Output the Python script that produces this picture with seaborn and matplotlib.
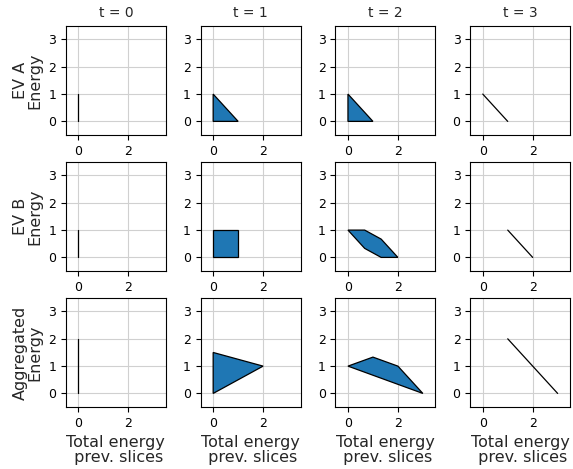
import numpy as np
import pandas as pd
import matplotlib
matplotlib.use("Agg")
import matplotlib.pyplot as plt
import seaborn as sns

# Row / column labels
row_labels = ["EV A\nEnergy", "EV B\nEnergy", "Aggregated\nEnergy"]
col_titles = ["t = 0", "t = 1", "t = 2", "t = 3"]

# Feasible sets: (x = total energy prev. slices, y = energy)
ev_a_x = [[0, 0], [0, 0, 1], [0, 0, 1], [0, 1]]
ev_a_y = [[0, 1], [0, 1, 0], [0, 1, 0], [1, 0]]

ev_b_x = [[0, 0], [0, 0, 1, 1], [0, 0.67, 1.33, 2, 1.33, 0.67], [1, 2]]
ev_b_y = [[0, 1], [0, 1, 1, 0], [1, 1, 0.67, 0, 0, 0.33], [1, 0]]

agg_x = [[0, 0], [0, 0, 2], [0, 1, 2, 3], [1, 3]]
agg_y = [[0, 2], [0, 1.5, 1], [1, 1.33, 1, 0], [2, 0]]

rows = [(ev_a_x, ev_a_y), (ev_b_x, ev_b_y), (agg_x, agg_y)]


def main():
    sns.set_style("ticks")
    fig, axes = plt.subplots(3, 4, figsize=(5.73, 4.69), dpi=100)

    for r, (xs, ys) in enumerate(rows):
        for c in range(4):
            ax = axes[r, c]
            x, y = xs[c], ys[c]
            if len(x) > 2:
                ax.fill(x, y, facecolor="#1f77b4", edgecolor="black", linewidth=0.9, zorder=3)
            else:
                df = pd.DataFrame({"x": x, "y": y})
                sns.lineplot(data=df, x="x", y="y", sort=False, estimator=None,
                             color="black", linewidth=0.9, ax=ax, zorder=3)
            ax.set_xlim(-0.5, 3.5)
            ax.set_ylim(-0.5, 3.5)
            ax.set_xticks([0, 2])
            ax.set_yticks([0, 1, 2, 3])
            ax.grid(True, color="#d0d0d0", linewidth=0.8)
            ax.tick_params(labelsize=9, length=3.5, width=0.8, colors="black")
            for s in ax.spines.values():
                s.set_linewidth(0.8)
                s.set_color("black")
            ax.set_xlabel("")
            ax.set_ylabel("")
            if r == 0:
                ax.set_title(col_titles[c], fontsize=10)
            if c == 0:
                ax.set_ylabel(row_labels[r], fontsize=11.5, linespacing=0.95)
            if r == 2:
                ax.set_xlabel("Total energy\n prev. slices", fontsize=11.5, linespacing=0.95)

    fig.subplots_adjust(left=0.115, right=0.995, top=0.945, bottom=0.132,
                        wspace=0.35, hspace=0.245)
    fig.savefig("out.png", dpi=100)
    plt.close(fig)


if __name__ == "__main__":
    main()
